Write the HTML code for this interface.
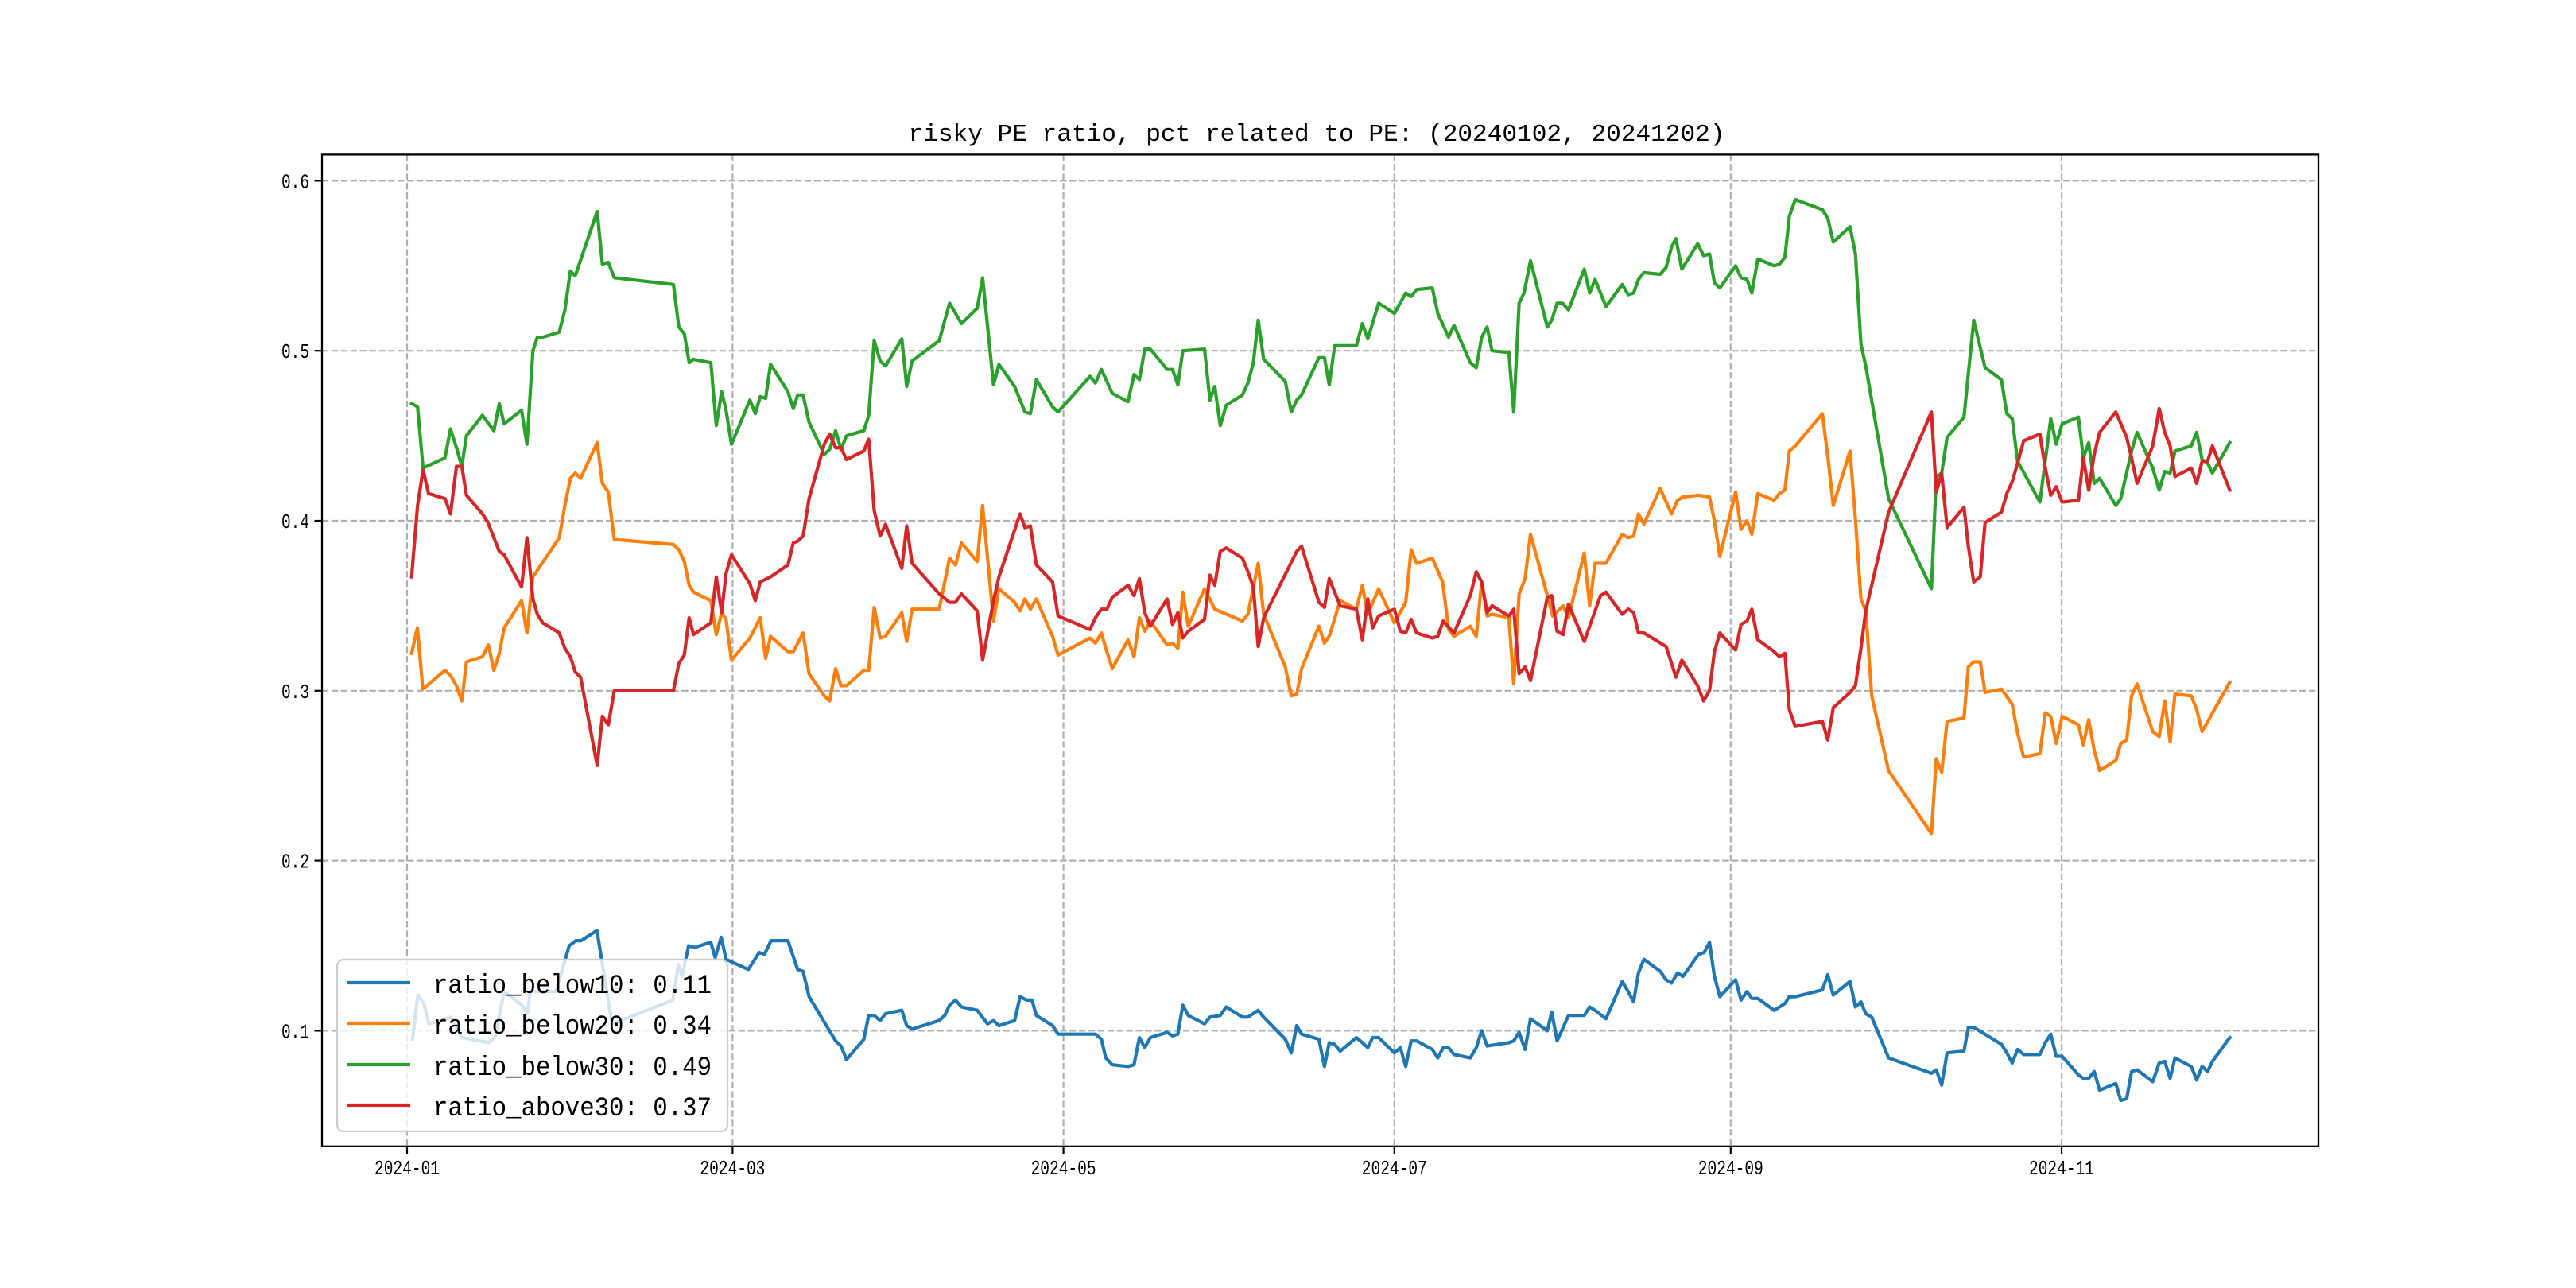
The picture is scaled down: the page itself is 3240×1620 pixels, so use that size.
<!DOCTYPE html>
<html><head><meta charset="utf-8"><style>
html,body{margin:0;padding:0;background:#fff;}
svg{display:block;}
text{font-family:"Liberation Mono","WenQuanYi Zen Hei",monospace;fill:#000;}
</style></head><body>
<svg id="chart" width="3240" height="1620" viewBox="0 0 3240 1620" xmlns="http://www.w3.org/2000/svg">
<rect x="0" y="0" width="3240" height="1620" fill="#fff"/>
<text x="1656" y="177" text-anchor="middle" font-size="31" textLength="1027" lengthAdjust="spacingAndGlyphs">risky PE ratio, pct related to PE: (20240102, 20241202)</text>
<g id="grid"></g>
<g id="series"></g>
<rect x="405" y="194.4" width="2511" height="1247.4" fill="none" stroke="#000" stroke-width="2.3"/>
<g id="ticks"></g>
<g id="legend"></g>
</svg>
<script>
// ---- data (day offsets from 2024-01-01, values) ----
const xTickLabels = ["2024-01","2024-03","2024-05","2024-07","2024-09","2024-11"];
const xTickDays = [0,60,121,182,244,305];
const yTickValues = [0.1,0.2,0.3,0.4,0.5,0.6];
const seriesNames = ["ratio_below10: 0.11","ratio_below20: 0.34","ratio_below30: 0.49","ratio_above30: 0.37"];
const seriesColors = ["#1f77b4","#ff7f0e","#2ca02c","#d62728"];

const blueDays = [1,2,3.1,4,8.1,10.1,15.1,16.2,17.9,21.2,22.2,22.7,27.4,29.9,31.1,32.1,35,37.8,49,50,50.7,51.9,53,56,56.8,57.9,58.8,62.9,64.9,65.9,67.1,70.2,72,73,74.1,79,80,81,84.2,85.1,86.1,87.2,88.2,91.2,92.1,93.1,98.1,99.1,100,101.1,102.2,105.1,107,108.1,109.1,112,113,114.2,115.2,116,119,120,126.9,128,128.8,130,132.9,134,135,136,137,140.1,141.1,142.1,143,144,147,148,149.9,151,154,155,156.9,157.9,161.9,163,164,164.9,168.1,169.1,170,171,172,175,176.1,177.1,178,179.1,182,183.1,184.1,185.1,186.1,189,190,191,192,193,196,197.1,198.1,199.1,203.1,204,205,206.1,207.1,210.2,211,212,214.1,217,218,219,221,224,225.1,226.1,227,228,231,232.1,233.1,234.2,235.2,238.1,239.1,240.1,241,242,244.9,245.9,247,247.9,249,252,253,254,254.8,255.9,260.9,261.9,262.9,266,267,268,268.9,270,273.1,281,281.9,282.9,283.9,287,287.8,288.8,293.9,294.9,295.9,296.9,298,301,302,303,304,305.1,308.1,309,310,311,312,315,315.9,317,317.9,318.9,321.8,323,324,325,325.9,328.9,329.9,330.9,331.9,332.8,336];
const blueVals = [0.095,0.121,0.116,0.104,0.108,0.096,0.093,0.096,0.123,0.115,0.110,0.123,0.123,0.150,0.153,0.153,0.159,0.104,0.118,0.139,0.132,0.150,0.149,0.152,0.143,0.155,0.142,0.136,0.146,0.145,0.153,0.153,0.136,0.135,0.120,0.094,0.091,0.083,0.095,0.109,0.109,0.106,0.110,0.112,0.103,0.101,0.106,0.109,0.115,0.118,0.114,0.112,0.104,0.106,0.103,0.106,0.120,0.118,0.118,0.109,0.103,0.098,0.098,0.095,0.084,0.080,0.079,0.080,0.096,0.090,0.096,0.099,0.097,0.098,0.115,0.109,0.104,0.108,0.109,0.114,0.108,0.108,0.112,0.108,0.095,0.087,0.103,0.098,0.095,0.079,0.093,0.092,0.088,0.096,0.093,0.090,0.096,0.096,0.087,0.090,0.079,0.094,0.094,0.089,0.084,0.090,0.090,0.086,0.084,0.090,0.100,0.091,0.093,0.094,0.099,0.089,0.107,0.100,0.111,0.094,0.109,0.109,0.114,0.112,0.107,0.129,0.123,0.117,0.134,0.142,0.135,0.130,0.128,0.134,0.132,0.145,0.146,0.152,0.132,0.120,0.130,0.118,0.123,0.119,0.119,0.112,0.114,0.116,0.120,0.120,0.124,0.133,0.121,0.129,0.114,0.117,0.110,0.108,0.084,0.075,0.077,0.068,0.087,0.088,0.102,0.102,0.092,0.087,0.081,0.089,0.086,0.086,0.093,0.098,0.085,0.085,0.074,0.072,0.072,0.076,0.065,0.069,0.059,0.060,0.076,0.077,0.070,0.081,0.082,0.072,0.084,0.079,0.071,0.079,0.076,0.082,0.096];

const orangeDays = [0.84,1.9,2.9,7,8,9.1,10.1,10.95,13.9,15,16,17,17.9,21.1,22.1,23.2,28.05,29.1,30.1,31,32,35.05,36,37.1,38.2,49.1,50.1,51.1,52,52.8,56,57,58,58.8,59.8,63.2,65.1,66.1,67,70.2,71.2,73,74.1,76.9,77.9,79,80,81,84.2,85.1,86.1,87.2,88.2,91.2,92.1,93.1,98.1,100,101.1,102.2,105.1,106.1,108.1,109.1,112,113,113.9,114.9,116,119,120,125.9,126.9,128,128.8,130,132.9,134,135,136,137,140.1,141.1,142.1,143,144,147,148.9,154,155,156.9,157.9,161.9,163,164,164.9,168.1,169.1,170,172,175,176.1,177.1,179.1,182,184.1,185.1,186.1,189,190.9,192,193,196,197.1,198.1,199.1,200,203.1,204,205,206.1,207.1,210.2,211.2,213.1,214.1,217,218,219,221,224,225.1,226.1,227,228,231,233.1,234.2,235.2,238.1,240.1,241,242,244.9,245.9,247,247.9,249,252,253,254,254.8,255.9,260.9,261.9,262.9,266,267,268,268.9,270,273.1,281,281.9,282.9,283.9,287,287.8,288.8,290,290.9,293.9,295.9,296.9,298,301,302,303,304,305.1,308.1,309,310,311,312,315,315.9,317,317.9,318.9,321.8,323,324,325,325.9,328.9,329.9,330.9,336];
const orangeVals = [0.322,0.337,0.301,0.312,0.309,0.303,0.294,0.317,0.320,0.327,0.312,0.322,0.337,0.353,0.334,0.367,0.390,0.409,0.425,0.428,0.425,0.446,0.422,0.417,0.389,0.386,0.383,0.376,0.362,0.358,0.353,0.333,0.346,0.342,0.318,0.331,0.343,0.319,0.332,0.323,0.323,0.334,0.310,0.297,0.294,0.313,0.303,0.303,0.312,0.312,0.349,0.331,0.332,0.346,0.329,0.348,0.348,0.378,0.374,0.387,0.376,0.409,0.341,0.360,0.352,0.347,0.354,0.348,0.354,0.332,0.321,0.331,0.328,0.334,0.325,0.313,0.330,0.320,0.343,0.335,0.341,0.327,0.328,0.325,0.358,0.338,0.360,0.348,0.341,0.345,0.375,0.345,0.314,0.297,0.298,0.313,0.338,0.328,0.332,0.353,0.348,0.362,0.345,0.360,0.340,0.352,0.383,0.375,0.378,0.364,0.336,0.332,0.338,0.332,0.364,0.344,0.345,0.343,0.304,0.357,0.366,0.392,0.356,0.344,0.350,0.343,0.381,0.350,0.375,0.375,0.392,0.390,0.391,0.404,0.398,0.419,0.404,0.412,0.414,0.415,0.414,0.400,0.379,0.417,0.395,0.400,0.392,0.416,0.412,0.416,0.418,0.441,0.444,0.463,0.438,0.409,0.441,0.401,0.354,0.347,0.297,0.253,0.216,0.260,0.252,0.282,0.284,0.314,0.317,0.317,0.299,0.301,0.292,0.275,0.261,0.263,0.287,0.285,0.269,0.285,0.280,0.268,0.283,0.265,0.253,0.259,0.269,0.271,0.297,0.304,0.276,0.273,0.294,0.270,0.298,0.297,0.289,0.276,0.305];

const greenDays = [0.84,1.94,2.95,6.99,8,9.1,10.1,10.95,13.9,16,17,17.9,21.1,22.1,23.2,24,25,28.05,29.1,30.1,31,35.05,36,37.1,38.2,49.1,50.1,51.1,52,52.8,56,57,58,58.8,59.8,63.2,64.2,65.1,66.1,67,70.2,71.2,72,73,74.1,76.9,77.9,79,80,81,84.2,85.1,86.1,87.2,88.2,91.2,92.1,93.1,98.1,100,102.2,105.1,106.1,108.1,109.1,112,113.9,114.9,116,119,120,125.9,126.9,128,130,132.9,134,135,136,137,140.1,141.1,142.1,143,147,148,148.9,149.9,151,154,155,156,156.9,157.9,161.9,163,164,164.9,168.1,169.1,170,171,175,176.1,177.1,179.1,182,184.1,185.1,186.1,189,190,192,193,196,197.1,198.1,199.1,200,203.1,204,205,205.9,207.1,210.2,211,212,213,214.1,217,218,219,221,224,225.1,226.1,227,228,231,232.1,233.1,233.9,235,237.9,239,240.1,241,242,244.9,245.9,247,247.9,249,252,253,254,254.8,255.9,260.9,261.9,262.9,266,267,268,268.9,273.1,281,281.9,282.9,283.9,287,288.8,290.9,293.9,294.9,295.9,296.9,301,303,304,305.1,308.1,309,310,311,312,315,315.9,317.9,318.9,321.8,323,324,325,325.9,328.9,329.9,330.9,331.9,332.8,336];
const greenVals = [0.469,0.467,0.431,0.437,0.454,0.443,0.432,0.450,0.462,0.453,0.469,0.457,0.465,0.445,0.500,0.508,0.508,0.511,0.524,0.547,0.544,0.582,0.551,0.552,0.543,0.539,0.514,0.510,0.493,0.495,0.493,0.456,0.476,0.465,0.445,0.471,0.463,0.473,0.472,0.492,0.476,0.466,0.474,0.474,0.458,0.439,0.442,0.453,0.442,0.450,0.453,0.462,0.506,0.494,0.491,0.507,0.479,0.494,0.506,0.528,0.516,0.525,0.543,0.480,0.492,0.479,0.464,0.463,0.483,0.467,0.464,0.485,0.481,0.489,0.475,0.470,0.486,0.483,0.501,0.501,0.489,0.489,0.480,0.500,0.501,0.471,0.479,0.456,0.468,0.474,0.481,0.493,0.518,0.495,0.482,0.464,0.471,0.474,0.496,0.496,0.480,0.503,0.503,0.516,0.507,0.528,0.522,0.534,0.532,0.536,0.537,0.522,0.508,0.515,0.493,0.490,0.508,0.514,0.500,0.499,0.464,0.528,0.534,0.553,0.514,0.518,0.528,0.528,0.524,0.548,0.534,0.542,0.526,0.539,0.533,0.534,0.542,0.546,0.545,0.549,0.561,0.566,0.548,0.563,0.556,0.557,0.540,0.537,0.550,0.543,0.542,0.534,0.554,0.550,0.551,0.555,0.579,0.589,0.583,0.578,0.564,0.573,0.557,0.504,0.491,0.413,0.360,0.426,0.428,0.449,0.461,0.518,0.490,0.483,0.463,0.460,0.435,0.411,0.460,0.445,0.457,0.461,0.437,0.446,0.422,0.425,0.409,0.413,0.441,0.452,0.431,0.418,0.429,0.428,0.441,0.444,0.452,0.436,0.434,0.428,0.446];

const redDays = [0.84,1.94,2.95,3.96,7,8,9.1,10.1,10.95,13.9,14.9,17,17.9,21.1,22.1,23.2,24,25,28.05,29.1,30.1,31,32,35.05,36,37.1,38.2,49.1,50.1,51.1,52,52.8,56,57,58,58.8,59.8,63.2,64.2,65.1,67,70.2,71.2,72,73,74.1,76.9,77.9,79,80,81,84.2,85.1,86.1,87.2,88.2,91.2,92.1,93.1,98.1,100,101.1,102.2,105.1,106.1,108.1,109.1,113,113.9,114.9,116,119,120,125.9,126.9,128,129,130,132.9,134,135,136,137,140.1,141.1,142.1,143,144,147,148,148.9,149.9,151,154,155,156,156.9,157.9,164,164.9,168.1,169.1,170,172,175,176.1,177.1,178,179.1,182,183.1,184.1,185.1,186.1,189,190,191,193,196,197.1,198.1,199.1,200,203.1,204,205,206.1,207.1,210.2,211,212,213.1,214.1,217,220,221,224,225.1,226.1,227,228,232.1,233.9,235,237.9,239,240.1,241,242,244.9,245.9,247,247.9,249,252,253,254,254.8,255.9,260.9,261.9,262.9,266,267,268,268.9,273.1,281,281.9,282.9,283.9,287,287.8,288.8,290,290.9,293.9,294.9,295.9,296.9,298,301,302,303,304,305.1,308.1,309,310,311,312,315,317,317.9,318.9,321.8,323,324,325,325.9,328.9,329.9,330.9,331.9,332.8,336];
const redVals = [0.367,0.409,0.430,0.416,0.413,0.404,0.432,0.432,0.415,0.404,0.399,0.382,0.380,0.361,0.390,0.354,0.345,0.340,0.334,0.325,0.320,0.311,0.308,0.256,0.285,0.280,0.300,0.300,0.316,0.321,0.343,0.333,0.340,0.367,0.346,0.369,0.380,0.363,0.353,0.364,0.367,0.374,0.387,0.388,0.391,0.413,0.445,0.451,0.443,0.443,0.436,0.441,0.448,0.406,0.391,0.398,0.372,0.397,0.375,0.357,0.352,0.352,0.357,0.347,0.318,0.353,0.367,0.404,0.396,0.397,0.374,0.364,0.344,0.336,0.343,0.348,0.348,0.355,0.362,0.356,0.366,0.346,0.338,0.354,0.339,0.346,0.331,0.335,0.342,0.368,0.362,0.382,0.384,0.378,0.370,0.361,0.326,0.343,0.382,0.385,0.352,0.349,0.366,0.350,0.348,0.330,0.354,0.337,0.344,0.348,0.335,0.334,0.342,0.334,0.331,0.332,0.341,0.334,0.356,0.370,0.364,0.346,0.350,0.344,0.348,0.310,0.314,0.306,0.355,0.356,0.335,0.333,0.351,0.329,0.356,0.358,0.345,0.348,0.346,0.334,0.334,0.326,0.308,0.318,0.303,0.294,0.300,0.323,0.334,0.324,0.339,0.341,0.348,0.330,0.323,0.320,0.322,0.289,0.279,0.282,0.271,0.290,0.299,0.303,0.325,0.347,0.405,0.464,0.417,0.428,0.396,0.408,0.385,0.364,0.367,0.399,0.405,0.416,0.423,0.434,0.447,0.451,0.431,0.415,0.420,0.411,0.412,0.437,0.418,0.439,0.452,0.464,0.449,0.437,0.422,0.444,0.466,0.452,0.444,0.426,0.431,0.422,0.435,0.435,0.444,0.418];

// ---- axes ----
const NS = "http://www.w3.org/2000/svg";
function xScale(day){ return 512 + day * 6.823; }
function yScale(v){ return 1296.4 - (v - 0.1) * 2138; }
function mk(tag, attrs, parent){
  const e = document.createElementNS(NS, tag);
  for (const k in attrs) e.setAttribute(k, attrs[k]);
  parent.appendChild(e);
  return e;
}
const grid = document.getElementById('grid');
const ticks = document.getElementById('ticks');
const PL = 405, PR = 2916, PT = 194.4, PB = 1441.8;

xTickDays.forEach((d, i) => {
  const x = xScale(d);
  const g = mk('line', {x1:x, x2:x, y1:PT, y2:PB, stroke:'#b0b0b0', 'stroke-width':2.2, 'stroke-dasharray':'8.3,3.6'}, grid);
  
  
  const t = mk('line', {x1:x, x2:x, y1:PB, y2:PB+9.5, stroke:'#000', 'stroke-width':2.2}, ticks);
  
  
  const lb = mk('text', {x:x, y:1477, 'text-anchor':'middle', 'font-size':26, textLength:82, lengthAdjust:'spacingAndGlyphs'}, ticks);
  lb.textContent = xTickLabels[i];
  
  
});
yTickValues.forEach((v) => {
  const y = yScale(v);
  const g = mk('line', {x1:PL, x2:PR, y1:y, y2:y, stroke:'#b0b0b0', 'stroke-width':2.2, 'stroke-dasharray':'8.3,3.6'}, grid);
  
  
  const t = mk('line', {x1:PL-9.5, x2:PL, y1:y, y2:y, stroke:'#000', 'stroke-width':2.2}, ticks);
  
  
  const lb = mk('text', {x:PL-16, y:y+9, 'text-anchor':'end', 'font-size':26, textLength:35, lengthAdjust:'spacingAndGlyphs'}, ticks);
  lb.textContent = v.toFixed(1);
  
  
});

// ---- series ----
const seriesG = document.getElementById('series');
const allDays = [blueDays, orangeDays, greenDays, redDays];
const allVals = [blueVals, orangeVals, greenVals, redVals];
const lineNames = ['ratio-below10-line','ratio-below20-line','ratio-below30-line','ratio-above30-line'];
allDays.forEach((days, s) => {
  const vals = allVals[s];
  const pts = days.map((d, i) => xScale(d).toFixed(1) + ',' + yScale(vals[i]).toFixed(1)).join(' ');
  const pl = mk('polyline', {points:pts, fill:'none', stroke:seriesColors[s], 'stroke-width':4.2, 'stroke-linejoin':'round', 'stroke-linecap':'square'}, seriesG);
  
  
});

// ---- legend ----
const leg = document.getElementById('legend');
const box = mk('rect', {x:424, y:1207, width:491, height:216, rx:8, fill:'#fff', 'fill-opacity':0.8, stroke:'#cccccc', 'stroke-width':2.2}, leg);


const rowY = [1236, 1287, 1339, 1390];
seriesNames.forEach((nm, i) => {
  const ln = mk('line', {x1:437, x2:516, y1:rowY[i], y2:rowY[i], stroke:seriesColors[i], 'stroke-width':4.2}, leg);
  
  
  const tx = mk('text', {x:545, y:rowY[i]+13, 'font-size':34, textLength:350, lengthAdjust:'spacingAndGlyphs'}, leg);
  tx.textContent = nm;
  
  
});
</script>
</body></html>
